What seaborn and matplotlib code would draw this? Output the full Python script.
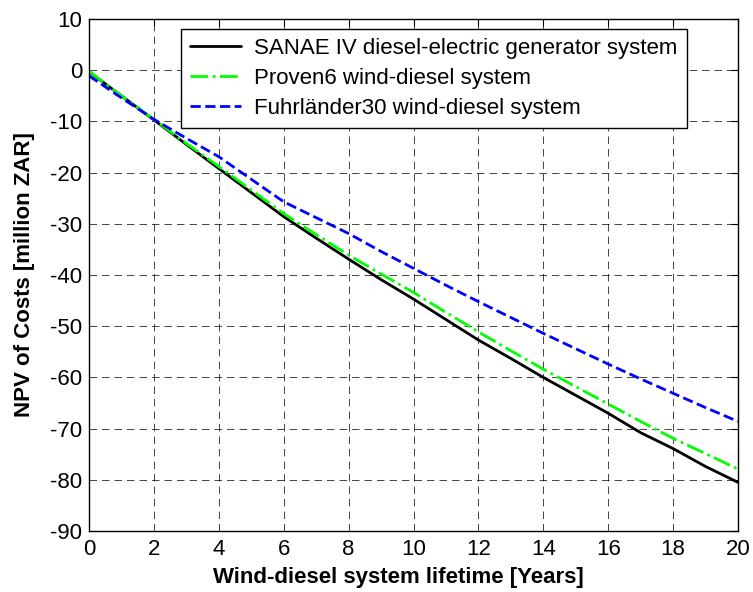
import matplotlib
matplotlib.use("Agg")
import matplotlib.pyplot as plt
import seaborn as sns
import pandas as pd

years = list(range(0, 21))
sanae = [-0.3, -5.0, -9.7, -14.5, -19.2, -23.9, -28.6, -32.8, -36.9, -40.9, -44.7,
         -48.7, -52.7, -56.3, -60.0, -63.5, -67.0, -70.8, -73.9, -77.4, -80.5]
proven6 = [-0.2, -5.0, -9.6, -14.3, -18.8, -23.4, -28.0, -32.1, -36.1, -39.8, -43.4,
           -47.3, -51.1, -54.8, -58.4, -61.8, -65.2, -68.6, -71.9, -74.9, -77.9]
fuhr30 = [-1.1, -5.4, -9.6, -13.3, -16.9, -21.3, -25.7, -28.8, -31.9, -35.4, -38.7,
          -42.0, -45.2, -48.3, -51.4, -54.4, -57.4, -60.3, -63.1, -65.9, -68.6]
labels = ["SANAE IV diesel-electric generator system",
          "Proven6 wind-diesel system",
          "Fuhrländer30 wind-diesel system"]
xticks = list(range(0, 21, 2))
yticks = list(range(-90, 11, 10))

sns.set_style("white")
plt.rcParams['font.family'] = ['Liberation Sans', 'DejaVu Sans']
plt.rcParams['axes.unicode_minus'] = False
plt.rcParams['text.color'] = 'black'
plt.rcParams['axes.labelcolor'] = 'black'

FS = 16

fig = plt.figure(figsize=(7.53, 5.92), dpi=100)
ax = fig.add_axes([89/753, 1 - 531/592, (738 - 89)/753, (531 - 19)/592])

df = pd.DataFrame({"year": years, "a": sanae, "b": proven6, "c": fuhr30})
styles = [("a", "black", "-"), ("b", (0, 1, 0), "-."), ("c", (0, 0, 1), "--")]
for (col, color, ls), lab in zip(styles, labels):
    sns.lineplot(data=df, x="year", y=col, ax=ax, color=color, linestyle=ls,
                 linewidth=2.0, label=lab)

ax.set_xlim(0, 20)
ax.set_ylim(-90, 10)
ax.set_xticks(xticks)
ax.set_yticks(yticks)
ax.tick_params(direction="in", length=5, width=0.8, top=True, right=True,
               labelsize=FS, colors="black", labelcolor="black")
ax.tick_params(axis="x", pad=6)
ax.tick_params(axis="y", pad=5)
ax.grid(True, color="black", linestyle=(0, (9, 6)), linewidth=0.6, alpha=0.85)
for s in ax.spines.values():
    s.set_color("black")
    s.set_linewidth(1.0)
    s.set_visible(True)

ax.set_xlabel("Wind-diesel system lifetime [Years]", fontsize=FS, fontweight="bold", color="black")
ax.set_ylabel("NPV of Costs [million ZAR]", fontsize=FS, fontweight="bold", color="black")
ax.xaxis.set_label_coords(0.477, -0.091, transform=ax.transAxes)
ax.xaxis.label.set_va("center")
ax.yaxis.set_label_coords(-0.099, 0.5, transform=ax.transAxes)
ax.yaxis.label.set_va("center")

leg = ax.legend(loc="upper right", bbox_to_anchor=(0.921, 0.980), borderaxespad=0,
                fontsize=FS, frameon=True, fancybox=False, edgecolor="black",
                framealpha=1, handlelength=2.3, handletextpad=0.6,
                labelspacing=0.4, borderpad=0.4)
leg.get_frame().set_linewidth(1.0)
for t in leg.get_texts():
    t.set_color("black")

fig.savefig("out.png", dpi=100)
